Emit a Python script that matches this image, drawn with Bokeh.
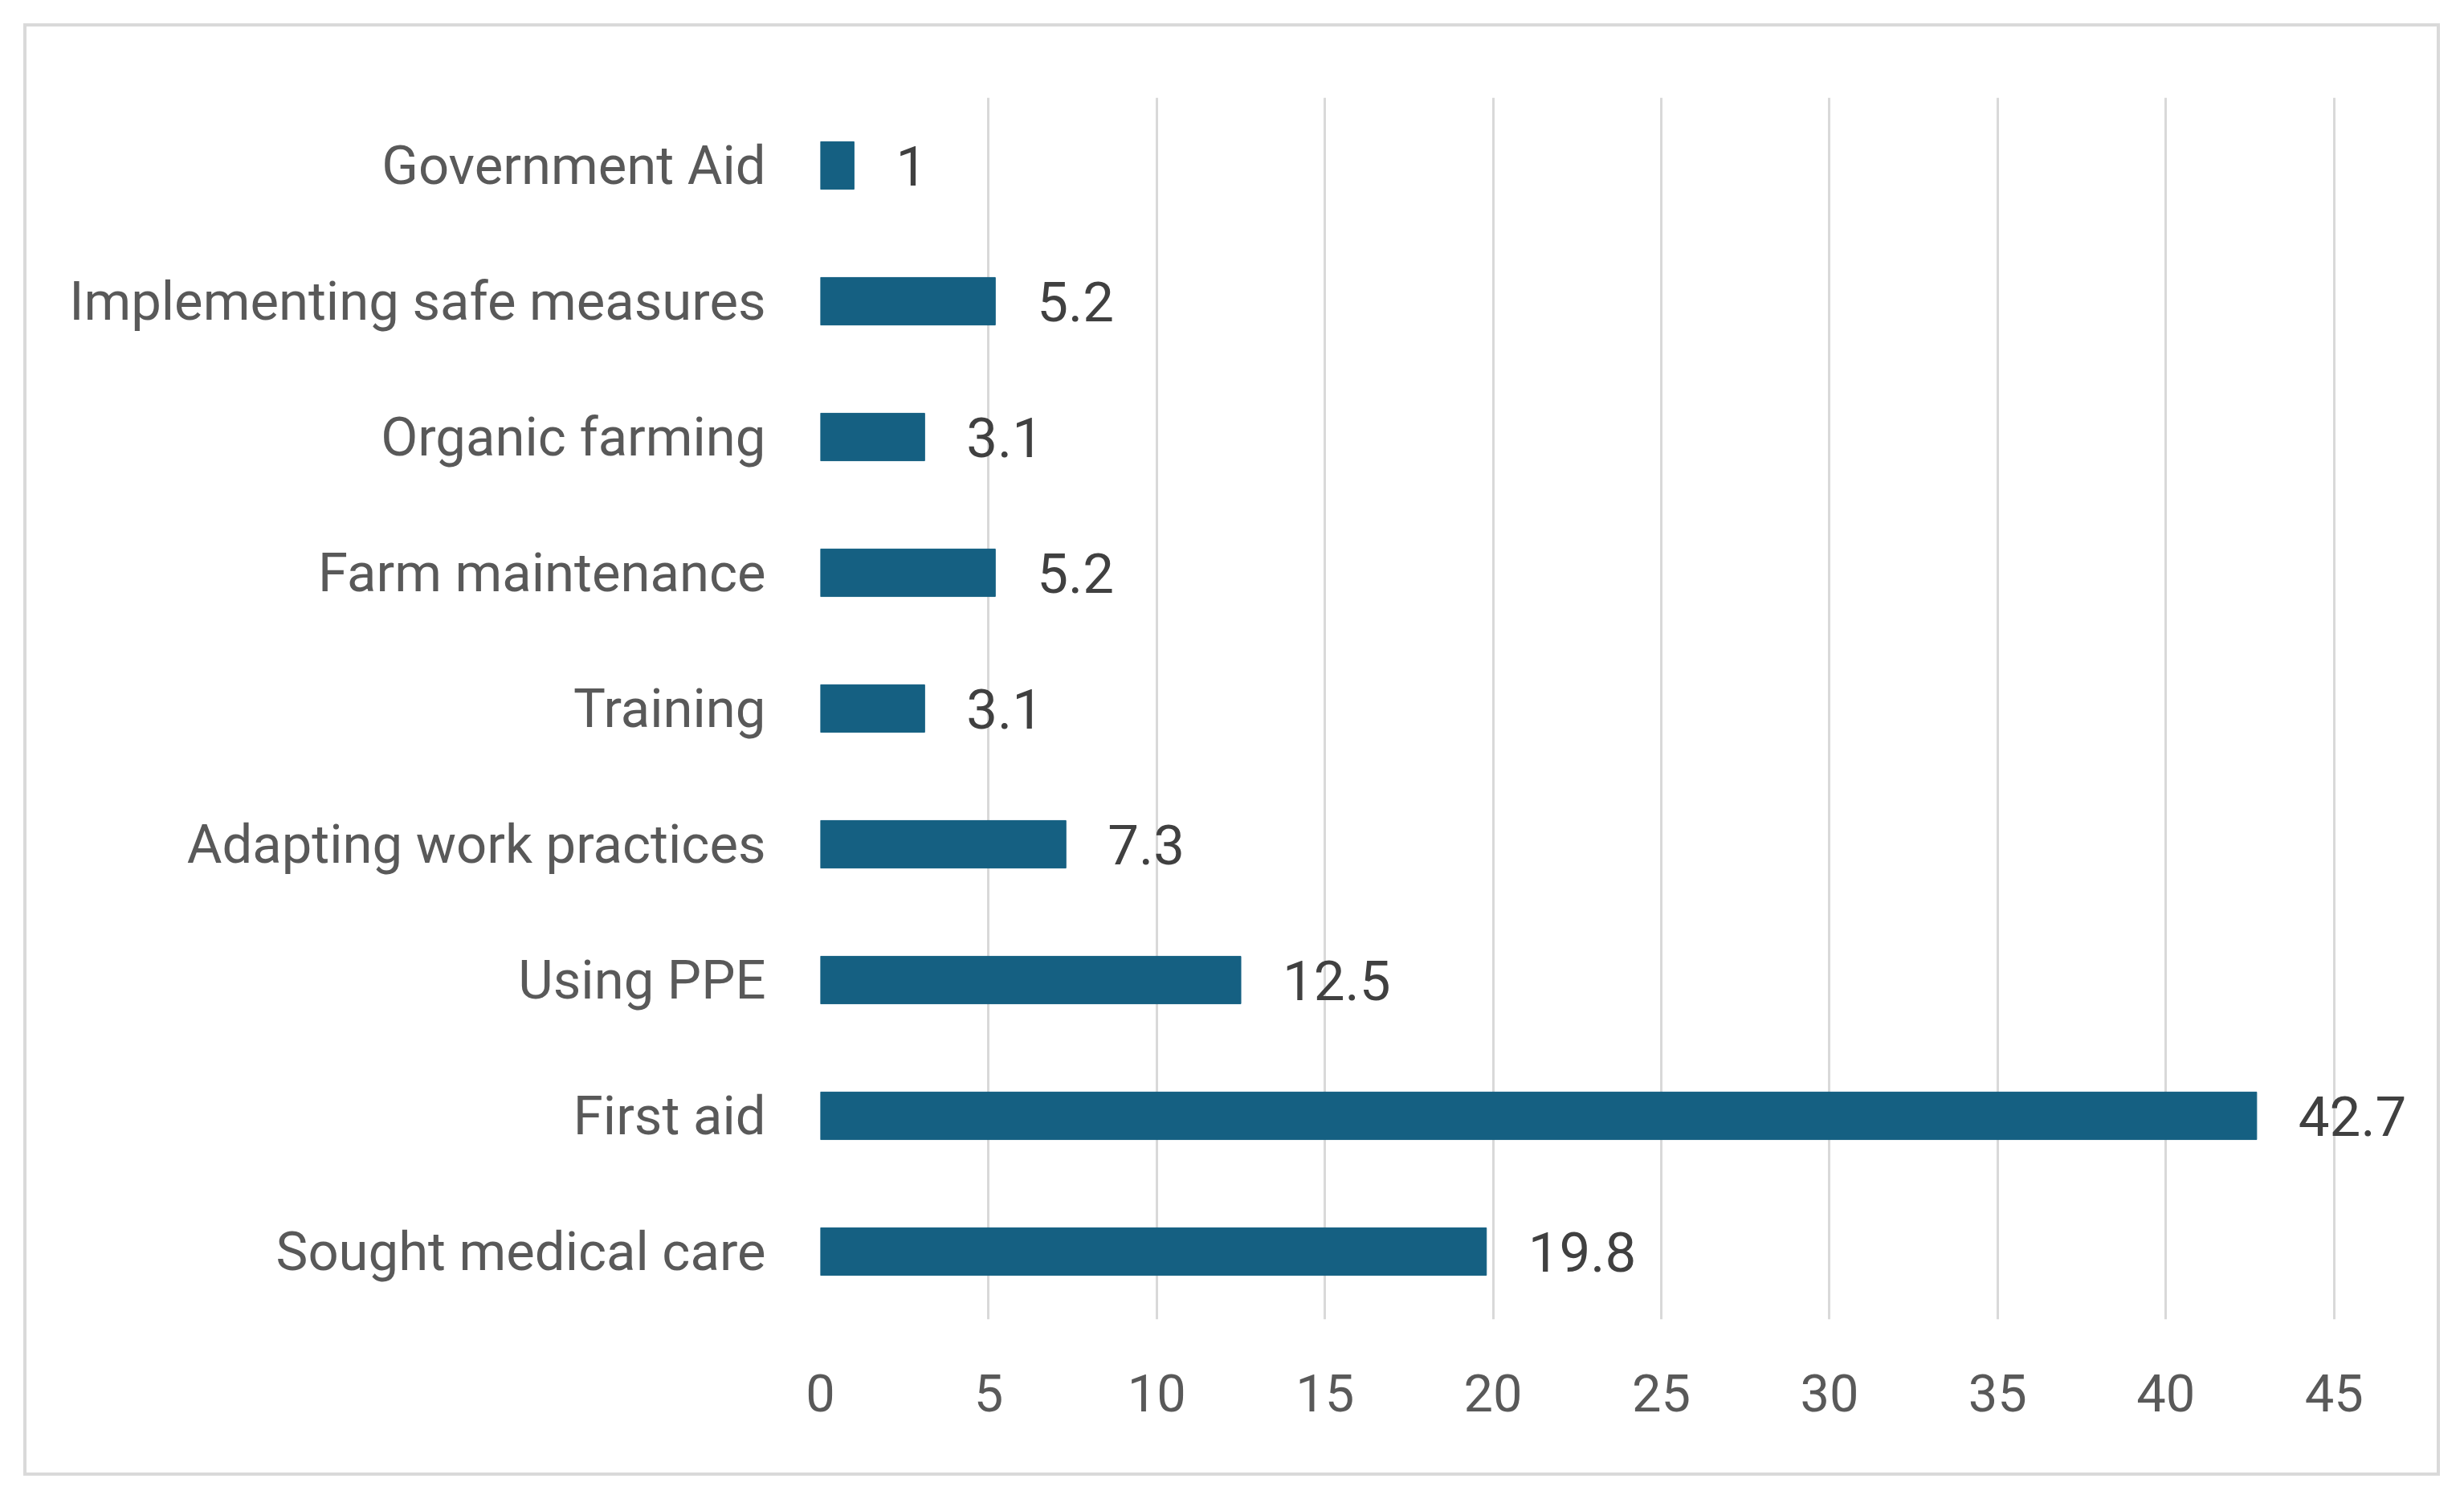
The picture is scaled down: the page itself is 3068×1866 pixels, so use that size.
from bokeh.plotting import figure
from bokeh.models import ColumnDataSource, FactorRange, Range1d, FixedTicker
from bokeh.core.properties import value
from bokeh.embed import file_html
from bokeh.resources import INLINE

# bottom to top
categories = ["Sought medical care", "First aid", "Using PPE", "Adapting work practices",
              "Training", "Farm maintenance", "Organic farming",
              "Implementing safe measures", "Government Aid"]
values = [19.8, 42.7, 12.5, 7.3, 3.1, 5.2, 3.1, 5.2, 1.0]
value_labels = ["19.8", "42.7", "12.5", "7.3", "3.1", "5.2", "3.1", "5.2", "1"]
x_ticks = [0, 5, 10, 15, 20, 25, 30, 35, 40, 45]

FONT = "Roboto"
src = ColumnDataSource(dict(cat=categories, val=values, lab=value_labels))

p = figure(width=3009, height=1808,
           y_range=FactorRange(*categories), x_range=Range1d(0, 47.3),
           output_backend="svg", toolbar_location=None,
           min_border_left=988, min_border_right=40,
           min_border_top=88, min_border_bottom=199)
p.styles = {"border": "4px solid #d9d9d9", "margin-left": "29px", "margin-top": "29px"}
p.outline_line_color = None
p.background_fill_color = "white"
p.border_fill_color = "white"

p.hbar(y="cat", left=0, right="val", height=0.35, color="#156082", source=src)
p.text(x="val", y="cat", text="lab", x_offset=52, text_align="left", text_baseline="middle",
       text_font=value(FONT), text_font_size="69px", text_color="#404040", source=src)

p.ygrid.grid_line_color = None
p.xgrid.grid_line_color = "#d9d9d9"
p.xgrid.grid_line_width = 3
p.xaxis.ticker = FixedTicker(ticks=x_ticks)
p.xgrid.ticker = FixedTicker(ticks=x_ticks)

for ax in (p.xaxis[0], p.yaxis[0]):
    ax.axis_line_color = None
    ax.major_tick_line_color = None
    ax.minor_tick_line_color = None
    ax.major_label_text_font = FONT
    ax.major_label_text_color = "#595959"

p.yaxis.major_label_text_font_size = "67px"
p.yaxis.major_label_standoff = 62
p.xaxis.major_label_text_font_size = "65px"
p.xaxis.major_label_standoff = 62

open("out.html", "w").write(file_html(p, INLINE))
